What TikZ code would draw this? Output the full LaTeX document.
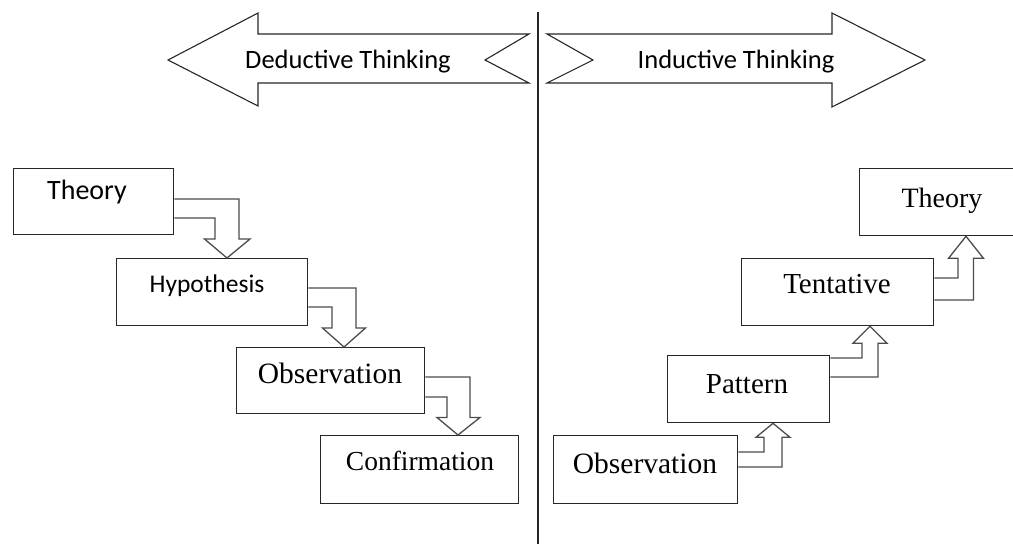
\documentclass[tikz,border=0pt]{standalone}
\usepackage{fontspec}
\setmainfont{Liberation Serif}
\newfontfamily\calib{Carlito}
\usetikzlibrary{calc}

\tikzset{
  stepbox/.style={draw=black!85, line width=1.3pt, anchor=north west, inner sep=0pt},
  conn/.style={draw=black!70, line width=1.3pt, line join=miter},
  bigarrow/.style={draw=black!85, line width=1.1pt, line join=miter},
  divider/.style={draw=black!85, line width=1.1pt},
  sanslbl/.style={font=\calib\fontsize{#1}{#1}\selectfont, anchor=base, inner sep=0pt},
  seriflbl/.style={font=\rmfamily\fontsize{#1}{#1}\selectfont, anchor=base, inner sep=0pt},
}

\begin{document}
\begin{tikzpicture}[x=1pt, y=-1pt]
\useasboundingbox (0,0) rectangle (1013,544);

% centre divider
\coordinate (divtop) at (538,12);
\coordinate (divbot) at (538,544);
\draw[divider] (divtop) -- (divbot);

% direction arrows with notched tails
\draw[bigarrow] (168,60) -- (258,13) -- (258,34) -- (529,34) -- (485,60)
  -- (529,83) -- (258,83) -- (258,106) -- cycle;
\node[sanslbl=26.5] (ded) at (348,68) {Deductive Thinking};

\draw[bigarrow] (547,34) -- (832,34) -- (832,13) -- (925,60) -- (832,107)
  -- (832,83) -- (547,83) -- (593,60) -- cycle;
\node[sanslbl=26.5] (ind) at (736,68) {Inductive Thinking};

% deductive chain
\node[stepbox, minimum width=160pt, minimum height=66pt] (t1) at (13,168) {};
\node[stepbox, minimum width=191pt, minimum height=67pt] (h1) at (116,258) {};
\node[stepbox, minimum width=188pt, minimum height=66pt] (o1) at (236,347) {};
\node[stepbox, minimum width=198pt, minimum height=68pt] (c1) at (320,435) {};

\node[sanslbl=28]    (t1l) at (87,199)  {Theory};
\node[sanslbl=25.5]  (h1l) at (207,292) {Hypothesis};
\node[seriflbl=29.5] (o1l) at (330,383) {Observation};
\node[seriflbl=27.5] (c1l) at (420,470) {Confirmation};

\coordinate (tipA) at ($(h1.north west)+(111,0)$);
\draw[conn] ($(t1.north east)+(0,31)$) -| ($(tipA)+(12,-19)$) -- ++(11,0)
  -- (tipA) -- ++(-22.5,-19) -- ++(10.5,0) |- ($(t1.north east)+(0,50)$);

\coordinate (tipB) at ($(o1.north west)+(108,0)$);
\draw[conn] ($(h1.north east)+(0,30)$) -| ($(tipB)+(12,-19)$) -- ++(9.5,0)
  -- (tipB) -- ++(-21.5,-19) -- ++(9.5,0) |- ($(h1.north east)+(0,49)$);

\coordinate (tipC) at ($(c1.north west)+(138,0)$);
\draw[conn] ($(o1.north east)+(0,30)$) -| ($(tipC)+(12,-17.5)$) -- ++(10,0)
  -- (tipC) -- ++(-21,-17.5) -- ++(10,0) |- ($(o1.north east)+(0,50)$);

% inductive chain
\node[stepbox, minimum width=184pt, minimum height=68pt] (o2) at (553,435) {};
\node[stepbox, minimum width=162pt, minimum height=67pt] (p2) at (667,355) {};
\node[stepbox, minimum width=192pt, minimum height=67pt] (t2) at (741,258) {};
\node[stepbox, minimum width=180pt, minimum height=67pt] (th2) at (859,168) {};

\node[seriflbl=29.5] (o2l)  at (645,473) {Observation};
\node[seriflbl=29]   (p2l)  at (747,393) {Pattern};
\node[seriflbl=29]   (t2l)  at (837,293) {Tentative};
\node[seriflbl=28]   (th2l) at (942,207) {Theory};

\coordinate (tipD) at ($(p2.south west)+(106,0)$);
\draw[conn] ($(o2.north east)+(0,17)$) -| ($(tipD)+(-9,14)$) -- ++(-8,0)
  -- (tipD) -- ++(17,14) -- ++(-8,0) |- ($(o2.north east)+(0,32)$);

\coordinate (tipE) at ($(t2.south west)+(129,0)$);
\draw[conn] ($(p2.north east)+(0,3)$) -| ($(tipE)+(-8,17)$) -- ++(-9,0)
  -- (tipE) -- ++(17,17) -- ++(-9,0) |- ($(p2.north east)+(0,22)$);

\coordinate (tipF) at ($(th2.south west)+(107,0)$);
\draw[conn] ($(t2.north east)+(0,20)$) -| ($(tipF)+(-8,22)$) -- ++(-9.5,0)
  -- (tipF) -- ++(17.5,22) -- ++(-10,0) |- ($(t2.north east)+(0,42)$);
\end{tikzpicture}
\end{document}
